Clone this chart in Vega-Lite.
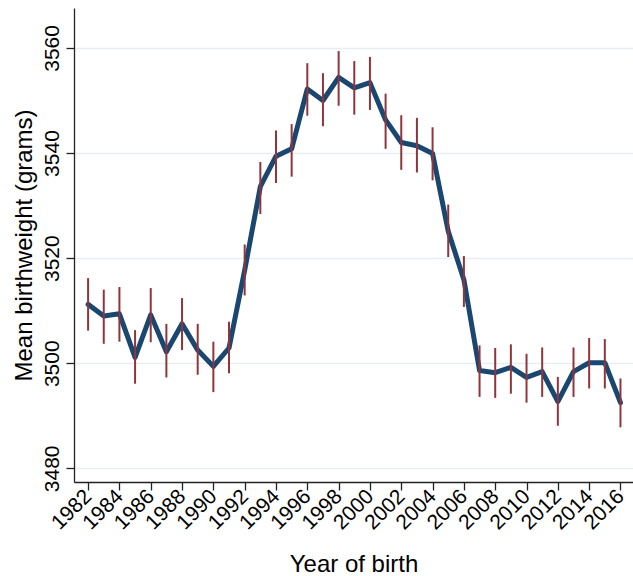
{
  "$schema": "https://vega.github.io/schema/vega-lite/v6.json",
  "width": 559,
  "height": 474,
  "autosize": "none",
  "padding": {"left": 74, "top": 8, "right": 0, "bottom": 94},
  "background": "white",
  "config": {
    "view": {"stroke": null},
    "font": "Liberation Sans",
    "axis": {
      "labelFont": "Liberation Sans",
      "titleFont": "Liberation Sans",
      "labelColor": "#000000",
      "titleColor": "#000000",
      "domainColor": "#222222",
      "tickColor": "#222222",
      "domainWidth": 1.3,
      "tickWidth": 1.3,
      "tickSize": 8,
      "labelFontSize": 21,
      "titleFontSize": 24,
      "titleFontWeight": "normal"
    }
  },
  "data": {
    "values": [
      {"year": 1982, "mean": 3511.2, "lo": 3506.2, "hi": 3516.2},
      {"year": 1983, "mean": 3509.0, "lo": 3503.7, "hi": 3514.0},
      {"year": 1984, "mean": 3509.4, "lo": 3504.1, "hi": 3514.5},
      {"year": 1985, "mean": 3501.1, "lo": 3496.1, "hi": 3506.3},
      {"year": 1986, "mean": 3509.2, "lo": 3504.0, "hi": 3514.3},
      {"year": 1987, "mean": 3502.2, "lo": 3497.3, "hi": 3507.5},
      {"year": 1988, "mean": 3507.5, "lo": 3502.5, "hi": 3512.4},
      {"year": 1989, "mean": 3502.5, "lo": 3497.8, "hi": 3507.5},
      {"year": 1990, "mean": 3499.4, "lo": 3494.5, "hi": 3504.1},
      {"year": 1991, "mean": 3502.9, "lo": 3498.1, "hi": 3507.9},
      {"year": 1992, "mean": 3517.7, "lo": 3512.9, "hi": 3522.6},
      {"year": 1993, "mean": 3533.6, "lo": 3528.4, "hi": 3538.3},
      {"year": 1994, "mean": 3539.4, "lo": 3534.3, "hi": 3544.3},
      {"year": 1995, "mean": 3540.8, "lo": 3535.5, "hi": 3545.5},
      {"year": 1996, "mean": 3552.2, "lo": 3547.1, "hi": 3557.1},
      {"year": 1997, "mean": 3550.0, "lo": 3545.1, "hi": 3555.2},
      {"year": 1998, "mean": 3554.4, "lo": 3549.0, "hi": 3559.4},
      {"year": 1999, "mean": 3552.4, "lo": 3547.3, "hi": 3557.5},
      {"year": 2000, "mean": 3553.4, "lo": 3548.2, "hi": 3558.3},
      {"year": 2001, "mean": 3546.3, "lo": 3540.8, "hi": 3551.3},
      {"year": 2002, "mean": 3542.0, "lo": 3536.8, "hi": 3547.2},
      {"year": 2003, "mean": 3541.4, "lo": 3536.3, "hi": 3546.7},
      {"year": 2004, "mean": 3539.9, "lo": 3534.8, "hi": 3544.9},
      {"year": 2005, "mean": 3525.1, "lo": 3520.2, "hi": 3530.2},
      {"year": 2006, "mean": 3515.9, "lo": 3510.7, "hi": 3520.4},
      {"year": 2007, "mean": 3498.6, "lo": 3493.6, "hi": 3503.4},
      {"year": 2008, "mean": 3498.2, "lo": 3493.4, "hi": 3502.9},
      {"year": 2009, "mean": 3499.2, "lo": 3494.2, "hi": 3503.6},
      {"year": 2010, "mean": 3497.3, "lo": 3492.5, "hi": 3501.8},
      {"year": 2011, "mean": 3498.4, "lo": 3493.6, "hi": 3503.0},
      {"year": 2012, "mean": 3492.7, "lo": 3488.1, "hi": 3497.4},
      {"year": 2013, "mean": 3498.4, "lo": 3493.6, "hi": 3503.0},
      {"year": 2014, "mean": 3500.1, "lo": 3495.2, "hi": 3504.8},
      {"year": 2015, "mean": 3500.1, "lo": 3495.2, "hi": 3504.6},
      {"year": 2016, "mean": 3492.5, "lo": 3487.8, "hi": 3497.1}
    ]
  },
  "encoding": {
    "x": {
      "field": "year",
      "type": "quantitative",
      "scale": {"domain": [1981.1, 2016.8], "nice": false, "zero": false},
      "axis": {
        "title": "Year of birth",
        "values": [1982, 1984, 1986, 1988, 1990, 1992, 1994, 1996, 1998, 2000, 2002, 2004, 2006, 2008, 2010, 2012, 2014, 2016],
        "format": "d",
        "grid": false,
        "labelAngle": -45,
        "labelAlign": "right",
        "labelBaseline": "middle",
        "labelPadding": 3,
        "labelOverlap": false,
        "labelFlush": false,
        "titlePadding": 19
      }
    }
  },
  "layer": [
    {
      "mark": {"type": "line", "color": "#1a476f", "strokeWidth": 5, "strokeJoin": "round", "strokeCap": "round"},
      "encoding": {
        "y": {
          "field": "mean",
          "type": "quantitative",
          "scale": {"domain": [3477.4, 3567.6], "nice": false, "zero": false},
          "axis": {
            "title": "Mean birthweight (grams)",
            "values": [3480, 3500, 3520, 3540, 3560],
            "format": "d",
            "grid": true,
            "gridColor": "#e6eef1",
            "gridWidth": 1.5,
            "labelAngle": -90,
            "labelAlign": "center",
            "labelBaseline": "bottom",
            "labelPadding": 4,
            "labelFlush": false,
            "titlePadding": 5
          }
        }
      }
    },
    {
      "mark": {"type": "rule", "color": "#90353b", "strokeWidth": 2},
      "encoding": {
        "y": {"field": "lo", "type": "quantitative"},
        "y2": {"field": "hi"}
      }
    }
  ]
}
